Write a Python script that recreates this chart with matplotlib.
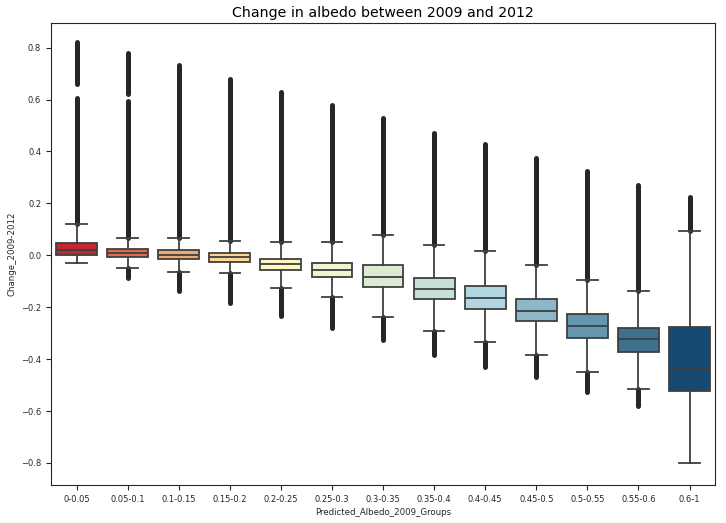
import matplotlib
matplotlib.use('Agg')
import matplotlib.pyplot as plt

groups = ['0-0.05', '0.05-0.1', '0.1-0.15', '0.15-0.2', '0.2-0.25', '0.25-0.3', '0.3-0.35',
          '0.35-0.4', '0.4-0.45', '0.45-0.5', '0.5-0.55', '0.55-0.6', '0.6-1']

q1 = [0.001, -0.008, -0.014, -0.025, -0.057, -0.082, -0.122, -0.168, -0.207, -0.255, -0.317, -0.373, -0.521]
median = [0.022, 0.010, 0.002, -0.005, -0.035, -0.055, -0.085, -0.131, -0.163, -0.215, -0.271, -0.323, -0.437]
q3 = [0.049, 0.024, 0.019, 0.010, -0.013, -0.030, -0.038, -0.086, -0.118, -0.168, -0.228, -0.281, -0.275]
whisker_low = [-0.030, -0.048, -0.063, -0.068, -0.125, -0.160, -0.238, -0.290, -0.336, -0.386, -0.451, -0.517, -0.800]
whisker_high = [0.121, 0.065, 0.068, 0.056, 0.051, 0.051, 0.078, 0.040, 0.017, -0.037, -0.095, -0.138, 0.092]

# outlier runs (dense enough to look like solid bars), per group
upper_outliers = [
    [(0.121, 0.605), (0.660, 0.820)],
    [(0.065, 0.595), (0.620, 0.780)],
    [(0.068, 0.732)],
    [(0.056, 0.678)],
    [(0.051, 0.630)],
    [(0.051, 0.579)],
    [(0.078, 0.528)],
    [(0.040, 0.472)],
    [(0.017, 0.428)],
    [(-0.037, 0.376)],
    [(-0.095, 0.324)],
    [(-0.138, 0.272)],
    [(0.092, 0.226)],
]
lower_outliers = [
    [],
    [(-0.086, -0.048)],
    [(-0.137, -0.063)],
    [(-0.184, -0.068)],
    [(-0.235, -0.125)],
    [(-0.282, -0.160)],
    [(-0.327, -0.238)],
    [(-0.383, -0.290)],
    [(-0.429, -0.336)],
    [(-0.468, -0.386)],
    [(-0.528, -0.451)],
    [(-0.579, -0.517)],
    [],
]

colors = ['#c3282f', '#de6d4f', '#f2aa6c', '#fcd595', '#fdf6c0', '#eff5cf', '#dcecd3',
          '#c6e1dc', '#b1d6e1', '#8eb6c9', '#6596b0', '#3e6f8f', '#174a72']

edge = '#3f3f3f'
flier_color = '#262626'

fig = plt.figure(figsize=(7.26, 5.23), dpi=100)
ax = fig.add_axes([0.0702, 0.0727, 0.9148, 0.8833])

stats = []
for i in range(len(groups)):
    stats.append({'q1': q1[i], 'med': median[i], 'q3': q3[i],
                  'whislo': whisker_low[i], 'whishi': whisker_high[i], 'fliers': []})

positions = list(range(len(groups)))

# outliers first so whiskers/caps sit on top
for i in positions:
    for lo, hi in upper_outliers[i] + lower_outliers[i]:
        ax.plot([i, i], [lo, hi], color=flier_color, linewidth=3.6,
                solid_capstyle='round', zorder=1)

bp = ax.bxp(stats, positions=positions, widths=0.8, patch_artist=True, showfliers=False,
            boxprops=dict(edgecolor=edge, linewidth=1.3),
            medianprops=dict(color=edge, linewidth=1.3),
            whiskerprops=dict(color=edge, linewidth=1.3),
            capprops=dict(color=edge, linewidth=1.3))
for patch, c in zip(bp['boxes'], colors):
    patch.set_facecolor(c)
    patch.set_zorder(2)
for ln in bp['medians']:
    ln.set_zorder(3)

ax.set_xlim(-0.5, len(groups) - 0.5)
ax.set_ylim(-0.885, 0.895)
ax.set_xticks(positions)
ax.set_xticklabels(groups)
ax.set_yticks([-0.8, -0.6, -0.4, -0.2, 0.0, 0.2, 0.4, 0.6, 0.8])
ax.tick_params(labelsize=6, colors='#262626', length=3.5)
for s in ax.spines.values():
    s.set_color('#262626')
    s.set_linewidth(0.8)

ax.set_xlabel('Predicted_Albedo_2009_Groups', fontsize=6.2, color='#262626', labelpad=3)
ax.set_ylabel('Change_2009-2012', fontsize=6.2, color='#262626', labelpad=3)
ax.set_title('Change in albedo between 2009 and 2012', fontsize=10.2, pad=4)

fig.savefig('out.png', dpi=100)
